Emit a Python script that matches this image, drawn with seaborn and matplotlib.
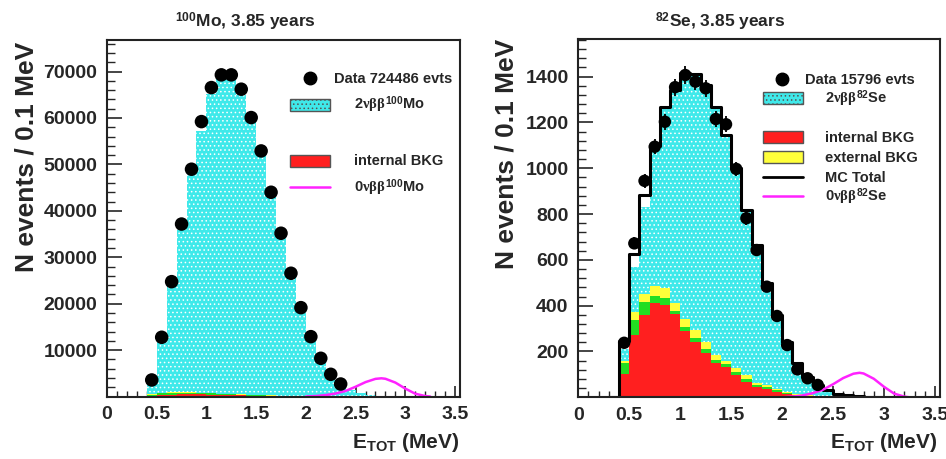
import numpy as np
import pandas as pd
import matplotlib
matplotlib.use("Agg")
import matplotlib.pyplot as plt
from matplotlib.patches import Rectangle
from matplotlib.lines import Line2D
import seaborn as sns

# Bins (0.1 MeV), lower edges from 0.4 MeV
edges = [round(0.4 + 0.1 * i, 2) for i in range(24)]   # 0.4 ... 2.7
centers = [round(e + 0.05, 2) for e in edges[:-1]]      # 0.45 ... 2.65

# ---------------- 100Mo ----------------
mo_data = [3560, 12760, 24740, 37150, 48960, 59220, 66550, 69290, 69290, 66200,
           60090, 52900, 44000, 35170, 26550, 19140, 12890, 8230, 4780, 2690]
mo_2nu = [3900, 12900, 24000, 37000, 48800, 57100, 65200, 68580, 68580, 64980,
          61030, 53490, 43060, 35300, 27260, 19350, 13250, 8580, 5350, 2840,
          1400, 820, 300]
mo_red = [150, 300, 420, 480, 480, 450, 400, 350, 300, 250,
          200, 160, 120, 90, 60, 40, 25, 15, 10, 5, 3, 2, 0]
mo_green = [250, 350, 400, 380, 340, 300, 260, 220, 190, 160,
            130, 100, 80, 60, 45, 30, 20, 12, 8, 5, 3, 2, 0]
mo_yellow = [60, 90, 100, 100, 90, 80, 70, 60, 50, 45,
             40, 30, 25, 20, 15, 10, 8, 5, 3, 2, 1, 1, 0]

# 0nu signal curve
zero_x = [2.0, 2.1, 2.2, 2.3, 2.4, 2.5, 2.6, 2.7, 2.76, 2.8, 2.9, 3.0, 3.1, 3.2, 3.25]
mo_0nu = [0, 100, 300, 650, 1200, 2100, 3100, 3800, 3920, 3820, 3000, 1700, 600, 100, 0]

# ---------------- 82Se ----------------
se_data = [238, 672, 945, 1094, 1203, 1354, 1407, 1378, 1349, 1215,
           1192, 997, 782, 643, 483, 355, 228, 122, 83, 54]
se_total = [245, 624, 883, 1099, 1266, 1342, 1415, 1412, 1362, 1269,
            1145, 1000, 818, 665, 498, 359, 243, 148, 90, 54,
            30, 15, 8]
se_2nu_top = [212, 570, 832, 1095, 1262, 1338, 1410, 1408, 1358, 1265,
              1141, 996, 814, 661, 494, 355, 239, 144, 86, 50,
              27, 13, 6]
se_red = [100, 272, 359, 410, 405, 362, 290, 243, 195, 148,
          134, 97, 68, 46, 35, 22, 14, 8, 5, 3, 2, 1, 0]
se_green = [50, 66, 59, 32, 27, 16, 16, 15, 15, 15,
            11, 15, 11, 9, 8, 8, 4, 3, 2, 1, 1, 1, 1]
se_yellow = [10, 36, 33, 44, 44, 35, 35, 36, 33, 22,
             15, 15, 18, 9, 9, 8, 4, 3, 2, 2, 1, 1, 0]
se_0nu = [0, 3, 8, 18, 33, 57, 84, 103, 107, 104, 81, 46, 16, 3, 0]

CYAN = "#3fe9ea"
RED = "#ff1f1f"
GREEN = "#22dd22"
YELLOW = "#ffff3a"
PINK = "#ff22ff"

sns.set_style("ticks")
plt.rcParams["font.family"] = ["Liberation Sans", "DejaVu Sans"]
plt.rcParams["font.weight"] = "bold"
plt.rcParams["mathtext.fontset"] = "custom"
plt.rcParams["mathtext.rm"] = "Liberation Sans:bold"
plt.rcParams["mathtext.bf"] = "Liberation Sans:bold"
plt.rcParams["mathtext.it"] = "Liberation Serif"
plt.rcParams["hatch.linewidth"] = 0.6
plt.rcParams["hatch.color"] = "#c9ffff"

W, H = 946, 459
fig = plt.figure(figsize=(W / 100, H / 100), dpi=100)


def fx(px):
    return px / W


def fy(py):
    return 1 - py / H


ax1 = fig.add_axes([fx(107), fy(396.5), fx(460 - 107), (396.5 - 40) / H])
ax2 = fig.add_axes([fx(578.3), fy(397.3), fx(940 - 578.3), (397.3 - 39.3) / H])


def hfill(ax, vals, color, hatch=None):
    df = pd.DataFrame({"E": centers, "n": list(vals)})
    sns.histplot(data=df, x="E", weights="n", bins=edges, element="step",
                 fill=True, color=color, alpha=1, linewidth=0, edgecolor="none",
                 hatch=hatch, ax=ax)


def stack(ax, two_nu, red, green, yellow):
    r = np.array(red)
    g = r + np.array(green)
    y = g + np.array(yellow)
    hfill(ax, two_nu, CYAN, "....")
    hfill(ax, y, YELLOW)
    hfill(ax, g, GREEN)
    hfill(ax, r, RED)


stack(ax1, mo_2nu, mo_red, mo_green, mo_yellow)
stack(ax2, se_2nu_top, se_red, se_green, se_yellow)

# MC total outline on the Se panel
tot_edges = [0.3] + edges + [2.8, 2.9, 3.0]
tot_df = pd.DataFrame({"E": [e + 0.05 for e in tot_edges[:-1]],
                       "n": [0] + se_total + [4, 2, 0]})
sns.histplot(data=tot_df, x="E", weights="n", bins=tot_edges, element="step",
             fill=False, color="black", linewidth=2.2, ax=ax2)

# 0nu curves
sns.lineplot(x=zero_x, y=mo_0nu, color=PINK, linewidth=1.8, ax=ax1)
sns.lineplot(x=zero_x, y=se_0nu, color=PINK, linewidth=1.8, ax=ax2)

# data points
ax2.errorbar(centers[:len(se_data)], se_data, yerr=np.sqrt(se_data), fmt="none",
             ecolor="black", elinewidth=1.3, capsize=0, zorder=5)
sns.scatterplot(x=centers[:len(mo_data)], y=mo_data, color="black", s=95,
                edgecolor="none", ax=ax1, zorder=6)
sns.scatterplot(x=centers[:len(se_data)], y=se_data, color="black", s=80,
                edgecolor="none", ax=ax2, zorder=6)

for ax, ymax, ystep, yminor in [(ax1, 76800, 10000, 2000), (ax2, 1563, 200, 40)]:
    ax.set_xlim(0, 3.55)
    ax.set_ylim(0, ymax)
    ax.set_xticks([0, 0.5, 1, 1.5, 2, 2.5, 3, 3.5])
    ax.set_xticklabels(["0", "0.5", "1", "1.5", "2", "2.5", "3", "3.5"])
    ax.set_xticks(np.arange(0, 3.56, 0.1), minor=True)
    ax.set_yticks(np.arange(ystep, ymax, ystep))
    ax.set_yticks(np.arange(yminor, ymax, yminor), minor=True)
    ax.tick_params(axis="both", which="both", top=False, right=False)
    ax.tick_params(axis="both", which="major", direction="in", labelsize=14,
                   width=1.2, pad=7)
    ax.tick_params(axis="x", which="major", length=8)
    ax.tick_params(axis="y", which="major", length=11)
    ax.tick_params(axis="x", which="minor", direction="in", length=4, width=1)
    ax.tick_params(axis="y", which="minor", direction="in", length=6, width=1)
    for lab in ax.get_xticklabels() + ax.get_yticklabels():
        lab.set_fontweight("bold")
    for s in ax.spines.values():
        s.set_visible(True)
        s.set_linewidth(1.5)
        s.set_color("#222222")
    ax.set_xlabel("")
    ax.set_ylabel("")

# titles and axis labels
fig.text(fx(245), fy(22), r"$^{100}$Mo, 3.85 years", ha="center", va="center",
         fontsize=12.5, fontweight="bold")
fig.text(fx(720), fy(22), r"$^{82}$Se, 3.85 years", ha="center", va="center",
         fontsize=12.5, fontweight="bold")
fig.text(fx(27), fy(42), "N events / 0.1 MeV", rotation=90, ha="center", va="top",
         fontsize=19, fontweight="bold")
fig.text(fx(507), fy(39), "N events / 0.1 MeV", rotation=90, ha="center", va="top",
         fontsize=19, fontweight="bold")
fig.text(fx(459), fy(443), r"E$_{\rm TOT}$ (MeV)", ha="right", va="center",
         fontsize=15, fontweight="bold")
fig.text(fx(937), fy(443), r"E$_{\rm TOT}$ (MeV)", ha="right", va="center",
         fontsize=15, fontweight="bold")


# hand-placed legends (ROOT style)
def leg_box(x0, y0, color, hatch=None):
    fig.patches.append(Rectangle((fx(x0), fy(y0 + 12)), fx(40), 12 / H,
                                 transform=fig.transFigure, facecolor=color,
                                 edgecolor="#555555", linewidth=1, hatch=hatch))


def leg_line(x0, y, color, lw):
    fig.lines.append(Line2D([fx(x0), fx(x0 + 40)], [fy(y), fy(y)],
                            transform=fig.transFigure, color=color, linewidth=lw))


def leg_dot(x, y):
    fig.lines.append(Line2D([fx(x)], [fy(y)], transform=fig.transFigure,
                            marker="o", markersize=9, color="black", linestyle="none"))


def leg_text(x, y, s):
    fig.text(fx(x), fy(y), s, ha="left", va="center", fontsize=10.5,
             fontweight="bold")


leg_dot(310, 78)
leg_text(334, 79, "Data 724486 evts")
leg_box(290, 99, CYAN, "....")
leg_text(354, 105, r"2$\nu\beta\beta^{100}$Mo")
leg_box(290, 155, RED)
leg_text(354, 161, "internal BKG")
leg_line(290, 187, PINK, 1.8)
leg_text(354, 188, r"0$\nu\beta\beta^{100}$Mo")

leg_dot(782, 79)
leg_text(805, 80, "Data 15796 evts")
leg_box(763, 92, CYAN, "....")
leg_text(825, 99, r"2$\nu\beta\beta^{82}$Se")
leg_box(763, 131, RED)
leg_text(825, 138, "internal BKG")
leg_box(763, 151, YELLOW)
leg_text(825, 158, "external BKG")
leg_line(763, 177, "black", 2)
leg_text(825, 178, "MC Total")
leg_line(763, 196, PINK, 1.8)
leg_text(825, 197, r"0$\nu\beta\beta^{82}$Se")

fig.savefig("out.png", dpi=100)
